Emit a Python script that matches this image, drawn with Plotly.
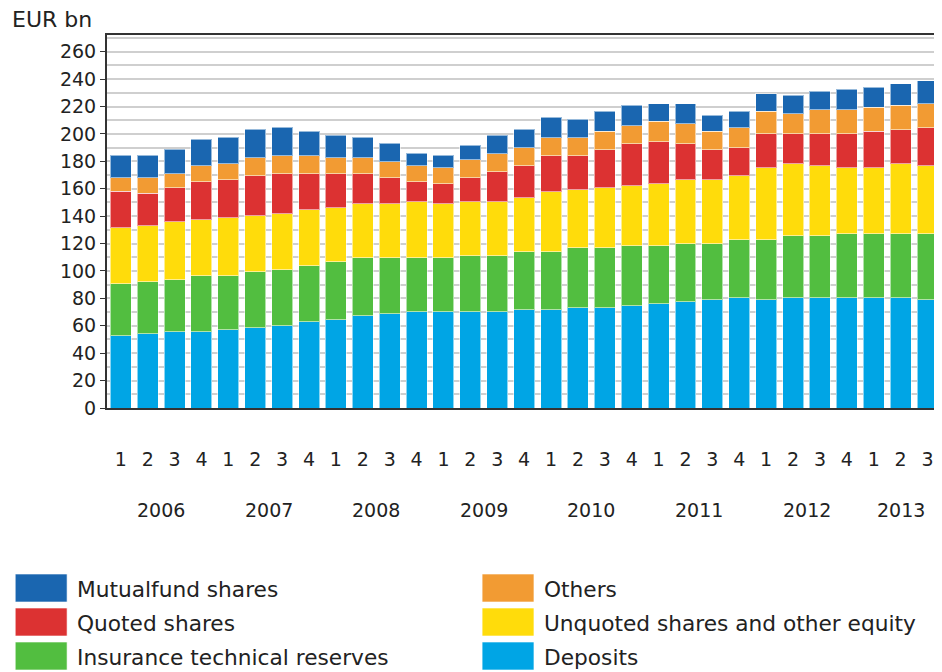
import plotly.graph_objects as go

years = ["2006", "2007", "2008", "2009", "2010", "2011", "2012", "2013"]
quarters = ["1", "2", "3", "4"] * 7 + ["1", "2", "3"]

deposits = [52.9, 54.1, 55.8, 55.8, 57.0, 58.5, 59.9, 62.9, 64.3, 67.3, 68.7, 70.2, 70.2, 70.2, 70.2, 71.6,
            71.6, 73.1, 73.1, 74.6, 76.0, 77.5, 78.9, 80.4, 78.9, 80.4, 80.4, 80.4, 80.4, 80.4, 78.9]
insurance = [37.7, 38.2, 37.8, 40.7, 39.5, 40.9, 41.0, 40.9, 42.4, 42.3, 40.9, 39.4, 39.4, 40.9, 40.9, 42.4,
             42.4, 43.9, 43.9, 43.8, 42.4, 42.4, 41.0, 42.4, 43.9, 45.3, 45.3, 46.8, 46.8, 46.8, 48.3]
unquoted = [41.0, 40.7, 42.4, 40.9, 42.4, 41.0, 40.9, 40.9, 39.5, 39.5, 39.5, 41.0, 39.5, 39.5, 39.5, 39.5,
            43.9, 42.4, 43.8, 43.9, 45.3, 46.8, 46.8, 46.8, 52.6, 52.7, 51.2, 48.2, 48.2, 51.2, 49.7]
quoted = [26.5, 23.7, 24.8, 27.8, 27.8, 29.2, 29.3, 26.4, 24.9, 22.0, 19.0, 14.6, 14.6, 17.5, 21.9, 23.4,
          26.3, 24.8, 27.8, 30.7, 30.7, 26.3, 21.9, 20.5, 24.9, 21.9, 23.4, 24.9, 26.4, 24.8, 27.8]
others = [10.0, 11.4, 10.3, 11.7, 11.7, 13.1, 13.1, 13.1, 11.6, 11.6, 11.7, 11.7, 11.7, 13.2, 13.2, 13.2,
          13.2, 13.2, 13.2, 13.1, 14.7, 14.6, 13.2, 14.6, 16.1, 14.6, 17.5, 17.5, 17.5, 17.6, 17.5]
mutualfund = [16.4, 16.4, 17.7, 19.3, 19.2, 20.8, 20.7, 17.8, 16.4, 14.9, 13.4, 9.0, 9.1, 10.5, 13.4, 13.4,
              14.8, 13.4, 14.8, 14.9, 13.1, 14.6, 11.7, 11.7, 13.1, 13.2, 13.2, 14.7, 14.6, 16.0, 16.6]

series_names = ["Deposits", "Insurance technical reserves", "Unquoted shares and other equity",
                "Quoted shares", "Others", "Mutualfund shares"]
series_values = [deposits, insurance, unquoted, quoted, others, mutualfund]
colors = ["#00A5E5", "#52BE40", "#FFDC0B", "#DC3232", "#F29B33", "#1A66B0"]

FONT = "DejaVu Sans"
OFF = 8  # page body margin offset
W, H = 942 - OFF, 672 - OFF
L, R, T, B = 107 - OFF, 2, 35 - OFF, 264

x = list(range(len(quarters)))

fig = go.Figure()
for name, vals, col in zip(series_names, series_values, colors):
    fig.add_trace(go.Bar(x=x, y=vals, name=name,
                         marker=dict(color=col, line=dict(color="rgba(255,255,255,0.55)", width=1)),
                         showlegend=False))

fig.update_layout(
    width=W, height=H, barmode="stack", bargap=0.22,
    margin=dict(l=L, r=R, t=T, b=B, pad=0),
    plot_bgcolor="white", paper_bgcolor="white",
    font=dict(family=FONT, size=19, color="#222"),
    xaxis=dict(range=[-0.513, 30.39], tickvals=x, ticktext=quarters, ticks="", showgrid=False,
               showline=True, linecolor="#333", linewidth=2, mirror=True, ticklabelstandoff=33,
               tickfont=dict(size=19, color="#222")),
    yaxis=dict(range=[0, 272.2], dtick=20, tick0=0, ticks="outside", ticklen=5, tickcolor="#333",
               showgrid=True, gridcolor="#cfcfcf", gridwidth=2,
               minor=dict(dtick=10, showgrid=True, gridcolor="#cfcfcf", gridwidth=2),
               showline=True, linecolor="#333", linewidth=2, mirror=True, zeroline=False,
               tickfont=dict(size=19, color="#222")),
)

pw = W - L - R
ph = H - T - B


def px2paper(px, py):
    # px, py given in reference-image pixel coordinates
    px -= OFF
    py -= OFF
    return (px - L) / pw, (H - B - py) / ph


# EUR bn label
ax_, ay_ = px2paper(10, 20)
fig.add_annotation(x=ax_, y=ay_, xref="paper", yref="paper", text="EUR bn", showarrow=False,
                   xanchor="left", yanchor="middle", font=dict(size=22, color="#222"))

# year labels
for i, yr in enumerate(years):
    idx = [k for k in range(len(quarters)) if k // 4 == i]
    xc = sum(idx) / len(idx)
    _, yy = px2paper(0, 510)
    fig.add_annotation(x=xc, y=yy, xref="x", yref="paper", text=yr, showarrow=False,
                       xanchor="center", yanchor="middle", font=dict(size=19, color="#222"))

# legend (drawn manually)
legend_order = [("Mutualfund shares", 5, 0, 0), ("Quoted shares", 3, 0, 1), ("Insurance technical reserves", 1, 0, 2),
                ("Others", 4, 1, 0), ("Unquoted shares and other equity", 2, 1, 1), ("Deposits", 0, 1, 2)]
col_box_x = [15, 483]
row_top = [574, 608, 642]
for label, si, c, r in legend_order:
    x0, y0 = px2paper(col_box_x[c], row_top[r])
    x1, y1 = px2paper(col_box_x[c] + 52, row_top[r] + 28)
    fig.add_shape(type="rect", xref="paper", yref="paper", x0=x0, x1=x1, y0=y1, y1=y0,
                  fillcolor=colors[si], line=dict(color="rgba(255,255,255,0.6)", width=1))
    tx, ty = px2paper(col_box_x[c] + 60, row_top[r] + 15)
    fig.add_annotation(x=tx, y=ty, xref="paper", yref="paper", text=label, showarrow=False,
                       xanchor="left", yanchor="middle", font=dict(size=21.7, color="#222"))

fig.write_html("out.html")
